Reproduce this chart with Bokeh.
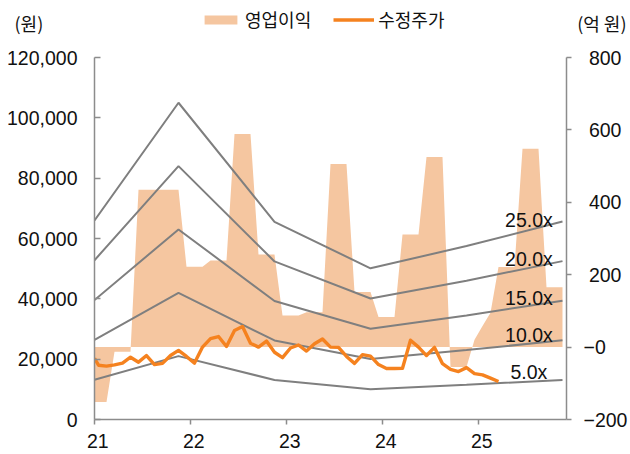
import numpy as np
from bokeh.plotting import figure
from bokeh.layouts import column
from bokeh.models import (Range1d, LinearAxis, FixedTicker, NumeralTickFormatter,
                          Label, Legend, LegendItem)
from bokeh.embed import file_html
from bokeh.resources import INLINE

# ---------------- data ----------------
year_ticks = [0, 12, 24, 36, 48]            # month index where each year starts
year_labels = ["21", "22", "23", "24", "25"]

# 영업이익 (억 원), monthly Jan-2021 .. Nov-2025
op_profit = [-152, -152, -13, -13, -13,
             435, 435, 435, 435, 435, 435,
             222, 222, 222, 239, 239, 239, 589, 589, 589, 256, 256, 256,
             87, 87, 87, 96, 96, 96, 506, 506, 506, 152, 152, 152,
             83, 83, 83, 311, 311, 311, 525, 525, 525, -55, -55, -55,
             20, 58, 95, 221, 221, 221, 548, 548, 548, 165, 165, 165]

# 수정주가 (원): opening value, then monthly Jan-2021 .. Mar-2025
price_open = 20300
price = [18000, 17700, 18100, 18700, 20650, 19000, 21200, 18200, 18600, 21200,
         22900, 20900, 18700, 24000, 26800, 27500, 24200, 29500, 30800, 25300,
         24000, 26000, 22300, 20500, 23700, 24700, 22700, 25100, 26700, 24000,
         23900, 20900, 18600, 21500, 21000, 18200, 16900, 16900, 17000, 26300,
         24000, 21200, 23900, 18500, 16600, 15900, 17200, 15200, 14800, 13700,
         12600]

# PER band: EPS (원) at band vertices (month positions)
eps_month = [0.0, 10.5, 22.5, 34.5, 46.5, 58.5]
eps = [2640, 4200, 2620, 2005, 2300, 2625]
multiples = [25, 20, 15, 10, 5]
band_labels = ["25.0x", "20.0x", "15.0x", "10.0x", "5.0x"]

left_ticks = [0, 20000, 40000, 60000, 80000, 100000, 120000]
right_ticks = [-200, 0, 200, 400, 600, 800]
right_tick_labels = ["\u2212200", "\u22120", "\u00a0200", "\u00a0400", "\u00a0600", "\u00a0800"]

# ---------------- styles ----------------
AREA = "#F5C6A0"
ORANGE = "#F5821F"
GRAY = "#7F7F7F"
AX = "#8C8C8C"
TXT = "#111111"
NUM_FONT = "Liberation Sans"
KR_FONT = "Noto Sans CJK KR"
NUM_SIZE = "19.5px"
KR_SIZE = "18px"
band_label_dy = [2, 2.5, 3, 5, 8]

W = 630
HEAD_H = 45
MAIN_H = 454 - HEAD_H

# ---------------- header (units, legend) ----------------
head = figure(width=W, height=HEAD_H, output_backend="svg", toolbar_location=None,
              x_range=Range1d(0, W), y_range=Range1d(0, HEAD_H),
              x_axis_location=None, y_axis_location=None, min_border=0,
              outline_line_color=None, background_fill_color="white",
              border_fill_color="white")
head.frame_align = False
head.xgrid.visible = False
head.ygrid.visible = False
# legend proxies (no visible data; only their legend glyphs are drawn)
nan2 = [np.nan, np.nan]
sw_area = head.varea(x=nan2, y1=nan2, y2=nan2, fill_color=AREA)
sw_line = head.line(x=nan2, y=nan2, line_color=ORANGE, line_width=3.4)
head.add_layout(Label(x=14, y=23, text="(원)", text_align="left",
                      text_baseline="middle", text_font=KR_FONT,
                      text_font_size=KR_SIZE, text_color=TXT))
head.add_layout(Label(x=626, y=23, text="(억 원)", text_align="right",
                      text_baseline="middle", text_font=KR_FONT,
                      text_font_size=KR_SIZE, text_color=TXT))
legend = Legend(items=[LegendItem(label="영업이익", renderers=[sw_area]),
                       LegendItem(label="수정주가", renderers=[sw_line])],
                location=(200, 13), orientation="horizontal",
                glyph_width=41, glyph_height=11, label_standoff=4, spacing=22,
                padding=0, margin=0, border_line_color=None,
                background_fill_alpha=0, label_text_font=KR_FONT,
                label_text_font_size=KR_SIZE, label_text_color=TXT)
head.add_layout(legend)

# ---------------- main chart ----------------
p = figure(width=W, height=MAIN_H, output_backend="svg", toolbar_location=None,
           x_range=Range1d(0, 59), y_range=Range1d(0, 120000),
           min_border_left=94, min_border_right=61, min_border_top=12,
           min_border_bottom=35, background_fill_color="white",
           border_fill_color="white", outline_line_color=None)
p.frame_align = False
p.extra_y_ranges = {"op": Range1d(-200, 800)}
p.xgrid.visible = False
p.ygrid.visible = False

# left axis
ya = p.yaxis[0]
ya.ticker = FixedTicker(ticks=left_ticks)
ya.formatter = NumeralTickFormatter(format="0,0")
ya.major_tick_in = 6
ya.major_tick_out = 0
ya.minor_tick_line_color = None
ya.major_label_standoff = 17
ya.major_label_text_font = NUM_FONT
ya.major_label_text_font_size = NUM_SIZE
ya.major_label_text_color = TXT
ya.axis_line_color = AX
ya.axis_line_width = 1.5
ya.major_tick_line_color = AX
ya.major_tick_line_width = 1.5

# bottom axis: ticks at year starts, labels centred on January
xa = p.xaxis[0]
xa.ticker = FixedTicker(ticks=year_ticks)
xa.major_label_overrides = {t: "\u2004" + lab for t, lab in zip(year_ticks, year_labels)}
xa.major_tick_in = 0
xa.major_tick_out = 5
xa.minor_tick_line_color = None
xa.major_label_standoff = 5
xa.major_label_text_font = NUM_FONT
xa.major_label_text_font_size = NUM_SIZE
xa.major_label_text_color = TXT
xa.axis_line_color = AX
xa.axis_line_width = 1.5
xa.major_tick_line_color = AX
xa.major_tick_line_width = 1.5

# right axis
ra = LinearAxis(y_range_name="op", ticker=FixedTicker(ticks=right_ticks),
                major_label_overrides={t: lab for t, lab in zip(right_ticks, right_tick_labels)},
                major_tick_in=0, major_tick_out=5, minor_tick_line_color=None,
                major_label_standoff=12, major_label_text_font=NUM_FONT,
                major_label_text_font_size=NUM_SIZE, major_label_text_color=TXT,
                axis_line_color=AX, axis_line_width=1.5,
                major_tick_line_color=AX, major_tick_line_width=1.5)
p.add_layout(ra, "right")

# area: operating profit
area_t = np.arange(len(op_profit)) + 0.5
area_t[0] = 0.0
p.varea(x=area_t, y1=0, y2=op_profit, y_range_name="op",
        fill_color=AREA, fill_alpha=1.0)

# PER bands
eps_arr = np.array(eps, dtype=float)
for m in multiples:
    p.line(eps_month, eps_arr * m, line_color=GRAY, line_width=2)

# adjusted price
price_t = np.concatenate([[0.0], np.arange(len(price)) + 0.5])
price_v = [price_open] + price
p.line(price_t, price_v, line_color=ORANGE, line_width=3.4, line_join="round")

# band labels
for lab, m, dy in zip(band_labels, multiples, band_label_dy):
    p.add_layout(Label(x=54.3, y=eps[-1] * m, text=lab, text_align="center",
                       text_baseline="middle", y_offset=dy, text_font=NUM_FONT,
                       text_font_size=NUM_SIZE, text_color=TXT))

layout = column(head, p, spacing=0)
open("out.html", "w").write(file_html(layout, INLINE))
